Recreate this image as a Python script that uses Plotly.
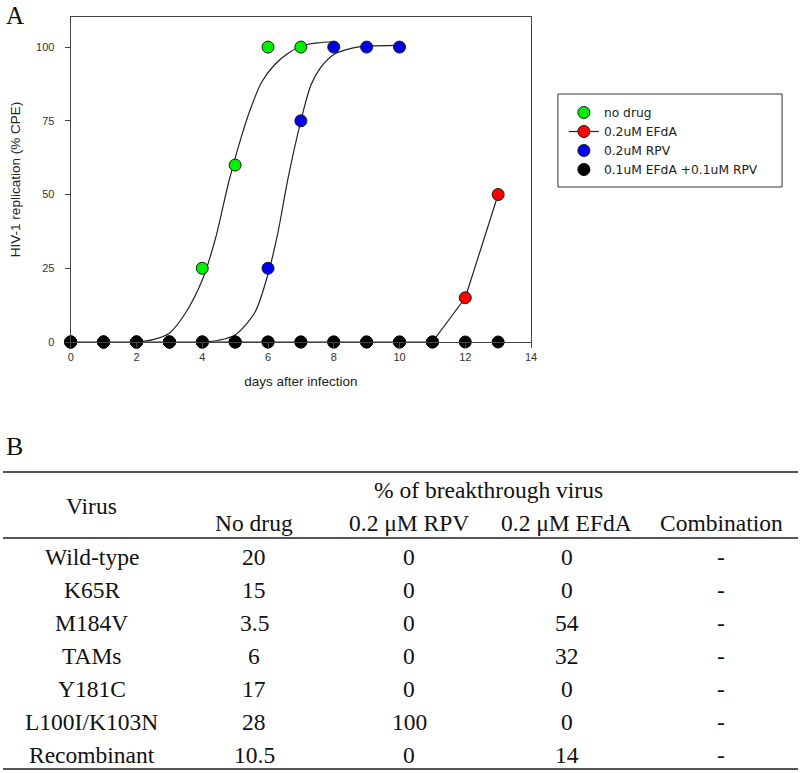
import plotly.graph_objects as go

# reference canvas used for positioning, and the rendered figure size
W, H = 800, 773
FW, FH = 806, 779

# ---------------- Panel A data ----------------
nodrug_days = [0, 1, 2, 3, 4, 5, 6, 7]
nodrug_vals = [0, 0, 0, 0, 25, 60, 100, 100]

efda_days = [0, 1, 2, 3, 4, 5, 6, 7, 8, 9, 10, 11, 12, 13]
efda_vals = [0, 0, 0, 0, 0, 0, 0, 0, 0, 0, 0, 0, 15, 50]

rpv_days = [0, 1, 2, 3, 4, 5, 6, 7, 8, 9, 10]
rpv_vals = [0, 0, 0, 0, 0, 0, 25, 75, 100, 100, 100]

combo_days = [0, 1, 2, 3, 4, 5, 6, 7, 8, 9, 10, 11, 12, 13]
combo_vals = [0, 0, 0, 0, 0, 0, 0, 0, 0, 0, 0, 0, 0, 0]

# fitted curves
nodrug_fit_x = [2.0, 2.5, 3.0, 3.5, 4.0, 4.4, 4.8, 5.2, 5.5, 5.8, 6.2, 6.6, 7.0, 7.5, 8.0]
nodrug_fit_y = [0, 0.8, 3, 10, 21, 35, 54, 70, 80, 88, 94, 97.8, 100.3, 101.4, 101.8]
rpv_fit_x = [4.0, 4.5, 5.0, 5.6, 6.0, 6.3, 6.6, 7.0, 7.3, 7.6, 8.0, 8.5, 9.0, 10.0]
rpv_fit_y = [0, 0.6, 2.4, 10, 23, 37, 55, 75, 87, 93, 97.5, 99.5, 100.3, 100.6]

legend_names = ["no drug", "0.2uM EFdA", "0.2uM RPV", "0.1uM EFdA +0.1uM RPV"]

# ---------------- Panel B data ----------------
table_title = "% of breakthrough virus"
col_headers = ["Virus", "No drug", "0.2 \u03bcM RPV", "0.2 \u03bcM EFdA", "Combination"]
viruses = ["Wild-type", "K65R", "M184V", "TAMs", "Y181C", "L100I/K103N", "Recombinant"]
col_nodrug = ["20", "15", "3.5", "6", "17", "28", "10.5"]
col_rpv = ["0", "0", "0", "0", "0", "100", "0"]
col_efda = ["0", "0", "54", "32", "0", "0", "14"]
col_combo = ["-", "-", "-", "-", "-", "-", "-"]


def px(x):
    return x / W


def py(y):
    return 1 - y / H


SANS = "Liberation Sans, Arial, sans-serif"
SERIF = "Liberation Serif, Times New Roman, serif"
MK = dict(size=12, line=dict(width=1, color="#1a1a1a"))

fig = go.Figure()
fig.add_trace(go.Scatter(x=nodrug_fit_x, y=nodrug_fit_y, mode="lines",
                         line=dict(color="#222", width=1.2, shape="spline", smoothing=0.8),
                         showlegend=False, hoverinfo="skip", cliponaxis=False))
fig.add_trace(go.Scatter(x=rpv_fit_x, y=rpv_fit_y, mode="lines",
                         line=dict(color="#222", width=1.2, shape="spline", smoothing=0.8),
                         showlegend=False, hoverinfo="skip", cliponaxis=False))
fig.add_trace(go.Scatter(x=efda_days, y=efda_vals, mode="lines+markers", name=legend_names[1],
                         line=dict(color="#222", width=1.2),
                         marker=dict(color="#ff0000", **MK), legendrank=2, cliponaxis=False))
fig.add_trace(go.Scatter(x=nodrug_days, y=nodrug_vals, mode="markers", name=legend_names[0],
                         marker=dict(color="#00ee00", **MK), legendrank=1, cliponaxis=False))
fig.add_trace(go.Scatter(x=rpv_days, y=rpv_vals, mode="markers", name=legend_names[2],
                         marker=dict(color="#0000ee", **MK), legendrank=3, cliponaxis=False))
fig.add_trace(go.Scatter(x=combo_days, y=combo_vals, mode="markers", name=legend_names[3],
                         marker=dict(color="#000000", size=12, line=dict(width=1, color="#000")),
                         legendrank=4, cliponaxis=False))

ax_common = dict(showline=True, mirror=True, linecolor="#444", linewidth=1.2,
                 ticks="outside", ticklen=5, tickcolor="#444", showgrid=False,
                 zeroline=False, tickfont=dict(family=SANS, size=11, color="#333"))

fig.update_layout(
    width=FW, height=FH,
    margin=dict(l=0, r=0, t=0, b=0),
    paper_bgcolor="white", plot_bgcolor="white",
    xaxis=dict(domain=[px(68), px(530)], range=[0, 14], tick0=0, dtick=2,
               title=dict(text="days after infection", font=dict(family=SANS, size=13.5, color="#222"),
                          standoff=14),
               **ax_common),
    yaxis=dict(domain=[py(342), py(17)], range=[0, 110.2], tickvals=[0, 25, 50, 75, 100],
               title=dict(text="HIV-1 replication (% CPE)", font=dict(family=SANS, size=13.5, color="#222"),
                          standoff=12),
               ticklabelstandoff=8,
               **ax_common),
    legend=dict(x=px(563), y=py(98), xanchor="left", yanchor="top",
                bgcolor="rgba(0,0,0,0)", borderwidth=0,
                font=dict(family="DejaVu Sans, sans-serif", size=12.3, color="#222"),
                traceorder="normal"),
    showlegend=True,
)

annotations = []
shapes = []

# legend frame
shapes.append(dict(type="rect", xref="paper", yref="paper", x0=px(557), x1=px(782),
                   y0=py(187), y1=py(94), line=dict(color="#333", width=1), layer="below"))

# panel labels
annotations.append(dict(text="A", x=px(1), y=py(15), xref="paper", yref="paper",
                        xanchor="left", yanchor="middle", showarrow=False,
                        font=dict(family=SERIF, size=25, color="#111")))
annotations.append(dict(text="B", x=px(1), y=py(446), xref="paper", yref="paper",
                        xanchor="left", yanchor="middle", showarrow=False,
                        font=dict(family=SERIF, size=26, color="#111")))

# table rules
for yy in [472, 538, 769]:
    shapes.append(dict(type="line", xref="paper", yref="paper", x0=0, x1=px(798),
                       y0=py(yy), y1=py(yy), line=dict(color="#555", width=2)))

TF = dict(family=SERIF, size=23.5, color="#111")
col_x = [89, 252, 408, 566, 721]

annotations.append(dict(text=table_title, x=px(487), y=py(489.5), xref="paper", yref="paper",
                        xanchor="center", yanchor="middle", showarrow=False, font=TF))
annotations.append(dict(text=col_headers[0], x=px(col_x[0]), y=py(506.5), xref="paper", yref="paper",
                        xanchor="center", yanchor="middle", showarrow=False, font=TF))
for cx, h in zip(col_x[1:], col_headers[1:]):
    annotations.append(dict(text=h, x=px(cx), y=py(522.5), xref="paper", yref="paper",
                            xanchor="center", yanchor="middle", showarrow=False, font=TF))

cols = [viruses, col_nodrug, col_rpv, col_efda, col_combo]
for i in range(len(viruses)):
    yc = 556.5 + 33.1 * i
    for cx, col in zip(col_x, cols):
        annotations.append(dict(text=col[i], x=px(cx), y=py(yc), xref="paper", yref="paper",
                                xanchor="center", yanchor="middle", showarrow=False, font=TF))

fig.update_layout(annotations=annotations, shapes=shapes)

post = (
    "var d=document.documentElement,b=document.body;"
    "d.style.margin='0';d.style.padding='0';d.style.overflow='hidden';"
    "b.style.margin='0';b.style.padding='0';b.style.overflow='hidden';"
    "b.style.lineHeight='0';b.style.fontSize='0';"
)
fig.write_html("out.html", config={"displayModeBar": False}, post_script=post)
